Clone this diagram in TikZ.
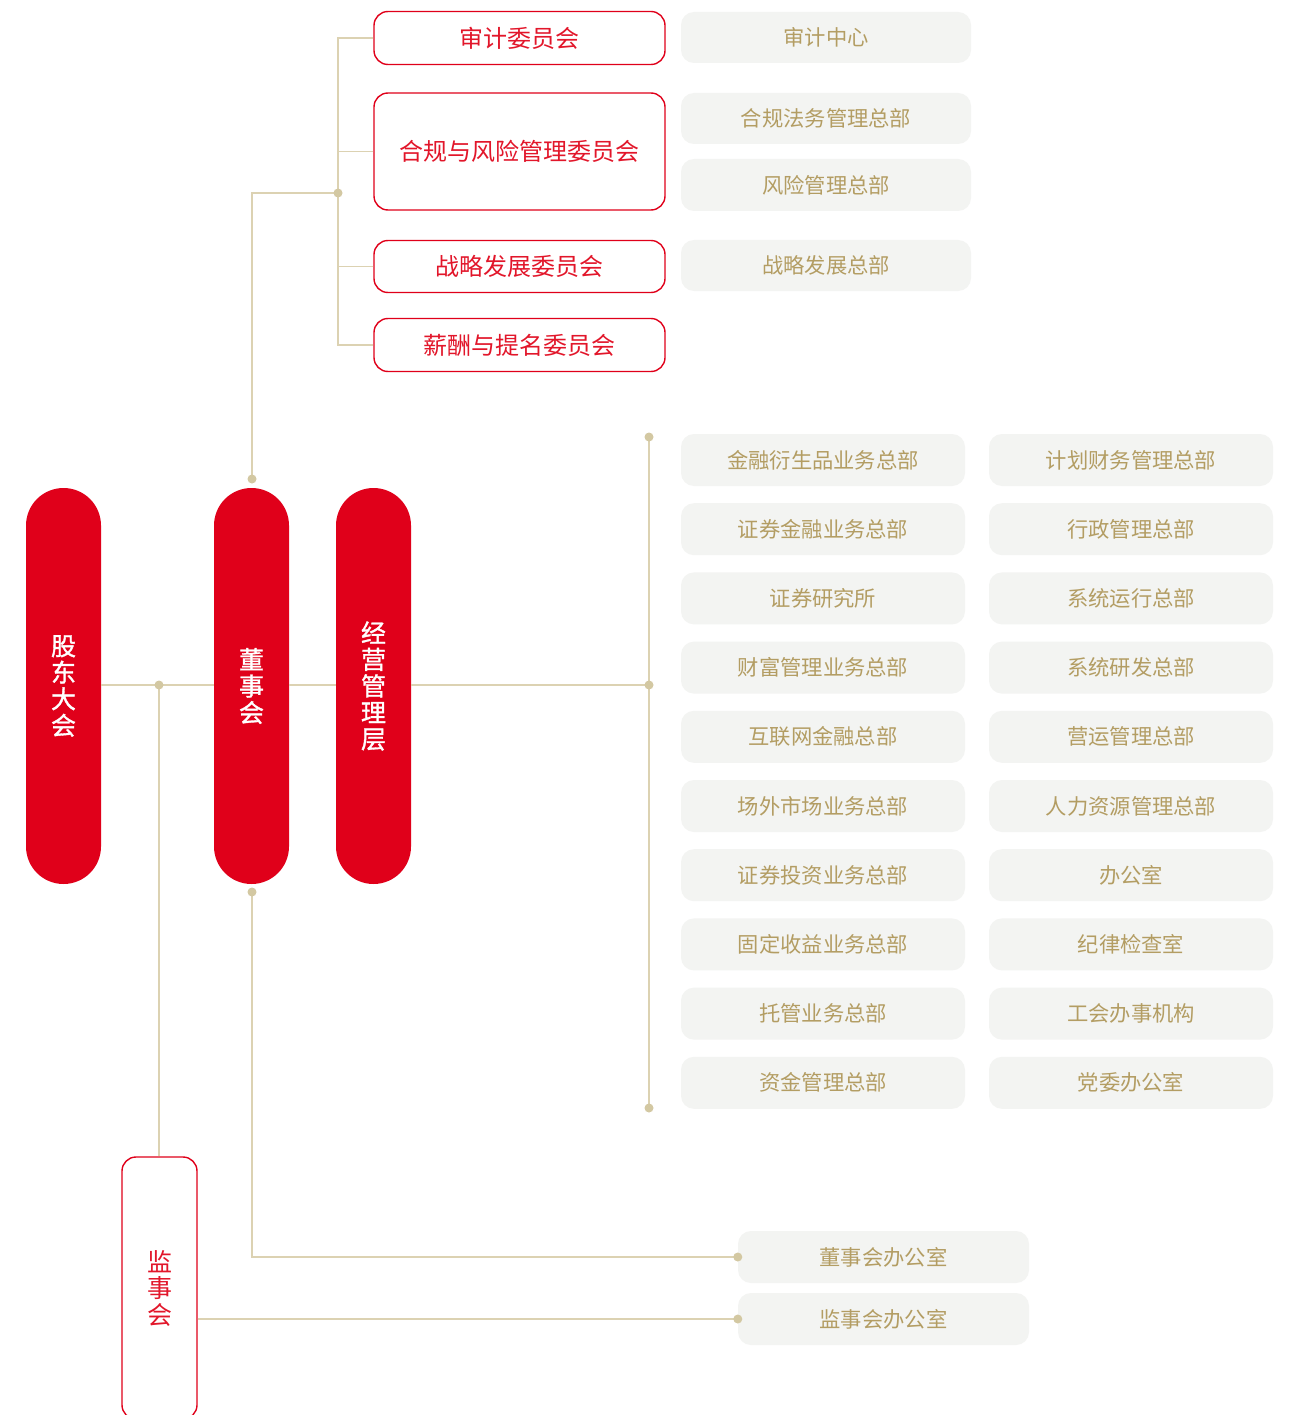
\documentclass[tikz,border=0pt]{standalone}
\usepackage{fontspec}
\setmainfont{Noto Sans CJK SC}
\newfontfamily\pillfont[FakeBold=1.3]{Noto Sans CJK SC}
\definecolor{cred}{HTML}{E0001A}
\definecolor{ctred}{HTML}{E2162A}
\definecolor{cgray}{HTML}{F3F4F2}
\definecolor{cgold}{HTML}{B39D63}
\definecolor{cline}{HTML}{DCD2B2}
\definecolor{cdot}{HTML}{D3C8A2}
\tikzset{
  redbox/.style={draw=cred, line width=1.4pt, rounded corners=14pt, fill=white, text=ctred,
     minimum width=291pt, inner sep=0pt, font=\fontsize{24}{26}\selectfont},
  graybox/.style={fill=cgray, rounded corners=13pt, text=cgold, inner sep=0pt,
     minimum height=52pt, font=\fontsize{21.3}{23}\selectfont},
  pill/.style={fill=cred, rounded corners=37.5pt, text=white, inner sep=0pt,
     minimum width=75pt, minimum height=396pt, align=center,
     font=\fontsize{25}{26.5}\pillfont},
  conn/.style={draw=cline, line width=1.6pt},
  dot/.style={fill=cdot},
}
\begin{document}
\begin{tikzpicture}[x=1pt,y=-1pt]
\clip (0,0) rectangle (1294,1415);
\fill[white] (0,0) rectangle (1294,1415);

% committees
\node[redbox, minimum height=53pt] (c1) at (519.5,38) {审计委员会};
\node[redbox, minimum height=117pt] (c2) at (519.5,151.5) {合规与风险管理委员会};
\node[redbox, minimum height=52pt] (c3) at (519.5,266.5) {战略发展委员会};
\node[redbox, minimum height=53pt] (c4) at (519.5,345) {薪酬与提名委员会};

% committee departments
\node[graybox, minimum width=290pt, minimum height=51pt] (g1) at (826,37.5) {审计中心};
\node[graybox, minimum width=290pt, minimum height=51pt] (g2) at (826,118.5) {合规法务管理总部};
\node[graybox, minimum width=290pt] (g3) at (826,185) {风险管理总部};
\node[graybox, minimum width=290pt, minimum height=51pt] (g4) at (826,265.5) {战略发展总部};

% pills
\node[pill] (p1) at (63.5,686) {股\\东\\大\\会};
\node[pill] (p2) at (251.5,686) {董\\事\\会};
\node[pill] (p3) at (373.5,686) {经\\营\\管\\理\\层};

% supervisors
\node[draw=cred, line width=1.4pt, rounded corners=14pt, fill=white, text=ctred,
      minimum width=75pt, minimum height=262pt, inner sep=0pt, align=center,
      font=\fontsize{25}{26.5}\selectfont] (s) at (159.5,1288) {监\\事\\会};

% management departments grid
\foreach \i/\a/\b in {0/金融衍生品业务总部/计划财务管理总部,
                      1/证券金融业务总部/行政管理总部,
                      2/证券研究所/系统运行总部,
                      3/财富管理业务总部/系统研发总部,
                      4/互联网金融总部/营运管理总部,
                      5/场外市场业务总部/人力资源管理总部,
                      6/证券投资业务总部/办公室,
                      7/固定收益业务总部/纪律检查室,
                      8/托管业务总部/工会办事机构,
                      9/资金管理总部/党委办公室}{
  \node[graybox, minimum width=284pt] (l\i) at (823,460+69.2*\i) {\a};
  \node[graybox, minimum width=284pt] (r\i) at (1131,460+69.2*\i) {\b};
}

% offices
\node[graybox, minimum width=291pt] (o1) at (883.5,1257) {董事会办公室};
\node[graybox, minimum width=291pt] (o2) at (883.5,1319) {监事会办公室};

% coordinates
\coordinate (tb) at (338,193);
\coordinate (dtop) at (252,479);
\coordinate (gd) at (159,685);
\coordinate (mb) at (649,685);
\coordinate (mtop) at (649,437);
\coordinate (mbot) at (649,1108);
\coordinate (dbot) at (252,892);

% connectors: committees
\draw[conn] (c1.west) -| (c4.west -| tb) -- (c4.west);
\draw[conn] (c2.west) -- (c2.west -| tb);
\draw[conn] (c3.west) -- (c3.west -| tb);
\draw[conn] (tb) -| (dtop);

% main line
\draw[conn] (p1.east |- gd) -- (p2.west |- gd);
\draw[conn] (p2.east |- gd) -- (p3.west |- gd);
\draw[conn] (p3.east |- mb) -- (mb);
\draw[conn] (gd) -- (s.north -| gd);
\draw[conn] (mtop) -- (mbot);

% bottom offices
\draw[conn] (dbot) |- (o1.west);
\draw[conn] (s.east |- o2.west) -- (o2.west);

% dots
\foreach \p in {tb,dtop,gd,mb,mtop,mbot,dbot,o1.west,o2.west}
  \fill[dot] (\p) circle (4.5pt);
\end{tikzpicture}
\end{document}
